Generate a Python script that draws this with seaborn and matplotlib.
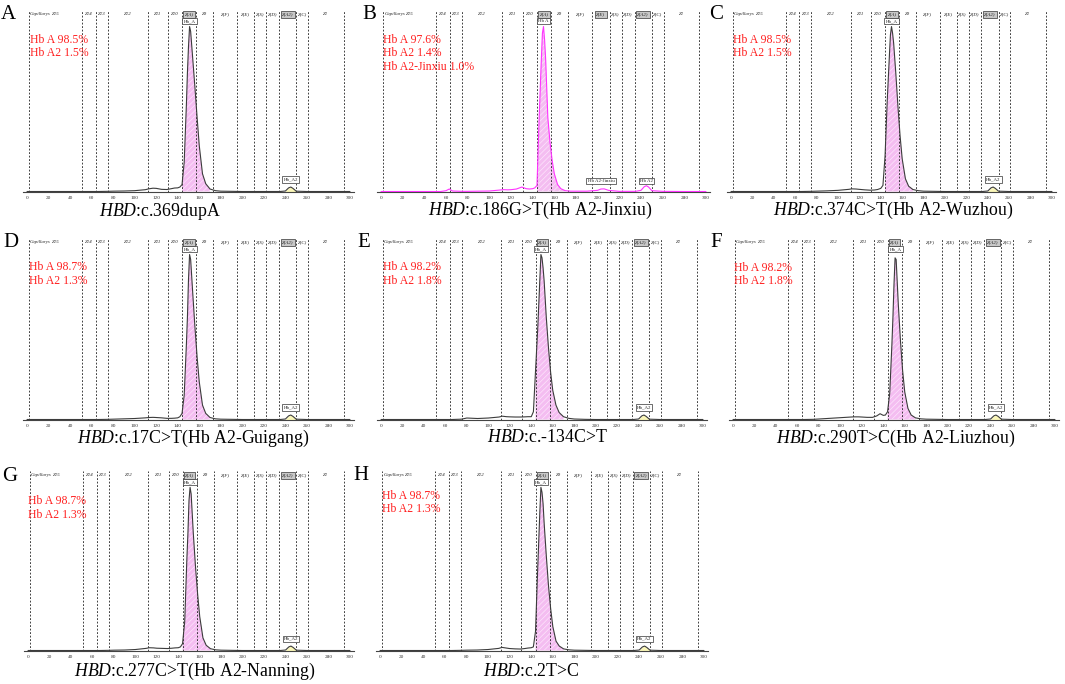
import numpy as np
import pandas as pd
import matplotlib
matplotlib.use("Agg")
import matplotlib.pyplot as plt
import seaborn as sns

sns.set_style("white")
plt.rcParams['font.family'] = ['Liberation Serif', 'DejaVu Serif']
plt.rcParams['mathtext.fontset'] = 'custom'
plt.rcParams['mathtext.it'] = 'Liberation Serif:italic'
plt.rcParams['mathtext.rm'] = 'Liberation Serif'
plt.rcParams['hatch.linewidth'] = 0.5

# ---------------- data ----------------
mobility = [0, 20, 40, 55, 60, 63, 66, 75, 80, 90,
            100, 110, 113, 117, 120, 125, 130, 134, 137, 140,
            142, 144, 146, 148, 149, 150, 151, 152, 154, 156,
            158, 160, 163, 166, 170, 175, 180, 190, 200, 203,
            206, 210, 220, 235, 240, 243, 245, 247, 250, 260,
            280, 300]

sig_A = [0.3, 0.3, 0.3, 0.3, 0.3, 0.3, 0.3, 0.4, 0.5, 0.6,
         0.8, 1.4, 1.9, 2.3, 2.2, 1.6, 1.5, 2.0, 2.4, 2.5,
         3.0, 4.5, 18, 52, 72, 88, 100, 97, 80, 63,
         45, 28, 11, 5.0, 1.8, 0.8, 0.5, 0.4, 0.3, 0.3,
         0.3, 0.3, 0.3, 0.3, 0.6, 2.5, 3.0, 2.2, 0.5, 0.3,
         0.3, 0.3]
sig_B = [0.3, 0.3, 0.3, 0.3, 0.8, 1.8, 0.6, 0.4, 0.4, 0.5,
         0.6, 1.2, 1.4, 1.3, 1.4, 1.8, 3.0, 2.0, 1.8, 2.0,
         2.5, 4.0, 45, 80, 96, 100, 92, 80, 45, 30,
         19, 11, 4.5, 2.0, 0.8, 0.5, 0.5, 0.5, 1.0, 1.8,
         1.9, 1.0, 0.4, 0.4, 1.0, 3.2, 3.8, 3.0, 0.8, 0.4,
         0.3, 0.3]
sig_C = [0.3, 0.3, 0.3, 0.3, 0.3, 0.3, 0.3, 0.4, 0.5, 0.7,
         1.0, 1.6, 1.9, 1.8, 1.6, 1.3, 1.1, 1.2, 1.5, 2.2,
         4.0, 22, 55, 82, 95, 100, 96, 90, 72, 52,
         34, 20, 8, 3.5, 1.5, 0.8, 0.5, 0.4, 0.3, 0.3,
         0.3, 0.3, 0.3, 0.3, 0.6, 2.5, 3.0, 2.2, 0.5, 0.3,
         0.3, 0.3]
sig_D = [0.3, 0.3, 0.3, 0.3, 0.3, 0.3, 0.3, 0.4, 0.5, 0.7,
         0.9, 1.3, 1.5, 1.6, 1.5, 1.3, 1.0, 1.0, 1.1, 1.3,
         2.0, 4.0, 15, 45, 62, 85, 100, 97, 76, 56,
         38, 23, 9, 4.0, 1.5, 0.7, 0.5, 0.4, 0.3, 0.3,
         0.3, 0.3, 0.3, 0.3, 0.6, 2.5, 3.0, 2.2, 0.5, 0.3,
         0.3, 0.3]
sig_E = [0.3, 0.3, 0.3, 0.3, 0.3, 0.3, 0.3, 0.5, 1.2, 0.9,
         1.2, 1.8, 2.3, 2.0, 1.9, 1.8, 1.8, 1.9, 2.0, 2.0,
         5.0, 30, 55, 85, 100, 98, 92, 84, 62, 44,
         29, 18, 9, 4.5, 2.0, 1.0, 0.6, 0.4, 0.3, 0.3,
         0.3, 0.3, 0.3, 0.3, 0.6, 2.5, 3.0, 2.2, 0.5, 0.3,
         0.3, 0.3]
sig_F = [0.3, 0.3, 0.3, 0.3, 0.3, 0.3, 0.3, 0.4, 0.6, 1.0,
         1.4, 1.8, 1.9, 1.9, 1.8, 1.6, 1.6, 2.5, 3.8, 2.8,
         3.0, 5.0, 16, 45, 62, 82, 98, 97, 70, 48,
         30, 17, 7, 3.0, 1.3, 0.7, 0.5, 0.4, 0.3, 0.3,
         0.3, 0.3, 0.3, 0.3, 0.6, 2.5, 3.0, 2.2, 0.5, 0.3,
         0.3, 0.3]
sig_G = [0.3, 0.3, 0.3, 0.3, 0.3, 0.3, 0.3, 0.4, 0.5, 0.6,
         0.9, 1.6, 2.0, 1.9, 1.7, 1.6, 1.5, 1.7, 1.9, 2.0,
         2.5, 4.5, 18, 56, 72, 92, 100, 96, 72, 52,
         35, 21, 8, 3.5, 1.4, 0.7, 0.5, 0.4, 0.3, 0.3,
         0.3, 0.3, 0.3, 0.3, 0.6, 2.5, 3.0, 2.2, 0.5, 0.3,
         0.3, 0.3]
sig_H = [0.3, 0.3, 0.3, 0.3, 0.3, 0.3, 0.3, 0.4, 0.5, 0.6,
         0.9, 1.6, 2.2, 1.8, 1.5, 1.3, 1.2, 1.5, 1.8, 2.0,
         2.5, 12, 50, 85, 100, 97, 90, 78, 58, 40,
         26, 15, 6, 3.0, 1.3, 0.7, 0.5, 0.4, 0.3, 0.3,
         0.3, 0.3, 0.3, 0.3, 0.6, 2.5, 3.0, 2.2, 0.5, 0.3,
         0.3, 0.3]

panel_letters = ["A", "B", "C", "D", "E", "F", "G", "H"]
signals = [sig_A, sig_B, sig_C, sig_D, sig_E, sig_F, sig_G, sig_H]
variants = ["c.369dupA", "c.186G>T(Hb A2-Jinxiu)", "c.374C>T(Hb A2-Wuzhou)",
            "c.17C>T(Hb A2-Guigang)", "c.-134C>T", "c.290T>C(Hb A2-Liuzhou)",
            "c.277C>T(Hb A2-Nanning)", "c.2T>C"]
results = [["Hb A 98.5%", "Hb A2 1.5%"],
           ["Hb A 97.6%", "Hb A2 1.4%", "Hb A2-Jinxiu 1.0%"],
           ["Hb A 98.5%", "Hb A2 1.5%"],
           ["Hb A 98.7%", "Hb A2 1.3%"],
           ["Hb A 98.2%", "Hb A2 1.8%"],
           ["Hb A 98.2%", "Hb A2 1.8%"],
           ["Hb A 98.7%", "Hb A2 1.3%"],
           ["Hb A 98.7%", "Hb A2 1.3%"]]
apex_pos = [151, 150, 150, 151, 149, 151.5, 151, 149]

zone_names = ["Z15", "Z14", "Z13", "Z12", "Z11", "Z10", "Z(A)", "Z9", "Z(F)",
              "Z(E)", "Z(S)", "Z(D)", "Z(A2)", "Z(C)", "Z1"]
zone_bounds = [2, 51, 64, 75, 112, 131, 144, 157, 173, 195, 211, 222, 234, 250, 261, 294]
tick_values = list(range(0, 301, 20))

# ---------------- layout (pixels) ----------------
W, H = 1065, 684
fig = plt.figure(figsize=(W / 100, H / 100), dpi=100)

xpix = [(27, 350), (381, 706), (731, 1052),
        (27, 350), (381, 703), (733, 1055),
        (28, 350), (380, 704)]
rows = [(10, 192), (10, 192), (10, 192),
        (238, 420), (238, 420), (238, 420),
        (471, 651), (471, 651), (471, 651)]
letter_pos = [(1, 19), (362, 19), (709, 19),
              (3, 247), (357, 247), (710, 247),
              (2, 481), (353, 480)]
caption_pos = [(160, 211), (540, 210), (893, 210),
               (193, 438), (547, 438), (896, 438),
               (195, 671), (531, 671)]
text_pos = [(30, 40), (383, 40), (733, 40),
            (29, 267), (383, 267), (734, 268),
            (28, 501), (382, 496)]
line_step = 13.5

XMIN, XMAX, YMAX = -4, 304, 110

for i in range(8):
    x0, x300 = xpix[i]
    top, bot = rows[i]
    s = (x300 - x0) / 300.0
    left = x0 + XMIN * s
    right = x0 + XMAX * s
    ax = fig.add_axes([left / W, 1 - bot / H, (right - left) / W, (bot - top) / H])
    ax.set_xlim(XMIN, XMAX)
    ax.set_ylim(0, YMAX)
    ax.set_facecolor("none")

    is_b = panel_letters[i] == "B"
    lc = "#ff33ff" if is_b else "#3c3c3c"

    df = pd.DataFrame({"mobility": mobility, "signal": signals[i]})
    m = (df.mobility >= 143) & (df.mobility <= 170)
    ax.fill_between(df.mobility[m], 0.3, df.signal[m], facecolor="#f4bdf1",
                    edgecolor="#fde6fc", hatch="//////", linewidth=0, zorder=1)
    if not is_b:
        m2 = (df.mobility >= 240) & (df.mobility <= 250)
        ax.fill_between(df.mobility[m2], 0.3, df.signal[m2], facecolor="#fbf7b8",
                        linewidth=0, zorder=1)
    sns.lineplot(data=df, x="mobility", y="signal", ax=ax, color=lc,
                 linewidth=0.8, zorder=3)

    for b in zone_bounds:
        ax.axvline(b, color="#222222", linestyle=(0, (2.2, 2)), linewidth=0.6, zorder=2)
    for k, name in enumerate(zone_names):
        cx = (zone_bounds[k] + zone_bounds[k + 1]) / 2
        boxed = name in ("Z(A)", "Z(A2)") or (is_b and name == "Z(E)")
        kw = dict(ha="center", va="center", fontsize=3.5, style="italic", color="#222222")
        if boxed:
            kw["bbox"] = dict(boxstyle="square,pad=0.25", facecolor="#c8c8c8",
                              edgecolor="#333333", linewidth=0.5)
        ax.text(cx, 107.3, name, **kw)
    ax.text(3, 107.3, "Capillarys", ha="left", va="center", fontsize=3.5,
            style="italic", color="#222222")

    lab_kw = dict(ha="center", va="center", fontsize=3.5, color="#222222",
                  bbox=dict(boxstyle="square,pad=0.25", facecolor="white",
                            edgecolor="#333333", linewidth=0.5))
    ax.text(apex_pos[i], 103.2, "Hb_A" if not is_b else "Hb A", **lab_kw)
    if is_b:
        ax.text(203, 6.5, "Hb A2-Jinxiu", **lab_kw)
        ax.text(245, 6.5, "Hb A2", **lab_kw)
    else:
        ax.text(245, 7.5, "Hb_A2", **lab_kw)

    for sp in ["top", "left", "right"]:
        ax.spines[sp].set_visible(False)
    ax.spines["bottom"].set_color("#444444")
    ax.spines["bottom"].set_linewidth(0.8)
    ax.set_yticks([])
    ax.set_xticks(tick_values)
    ax.set_xticklabels([str(t) for t in tick_values])
    ax.tick_params(axis="x", direction="inout", length=4, width=0.5,
                   labelsize=3.8, pad=1, colors="#333333")
    ax.set_xlabel("")
    ax.set_ylabel("")

    tx, ty = text_pos[i]
    for j, line in enumerate(results[i]):
        fig.text(tx / W, 1 - (ty + j * line_step) / H, line, color="#ff2020",
                 fontsize=8.5, ha="left", va="center")

    lx, ly = letter_pos[i]
    fig.text(lx / W, 1 - ly / H, panel_letters[i], fontsize=15, ha="left",
             va="baseline", color="black")

    cx, cy = caption_pos[i]
    fig.text(cx / W, 1 - cy / H, r"$\mathit{HBD}$:" + variants[i], fontsize=12.8,
             ha="center", va="center", color="black")

fig.savefig("out.png", dpi=100)
